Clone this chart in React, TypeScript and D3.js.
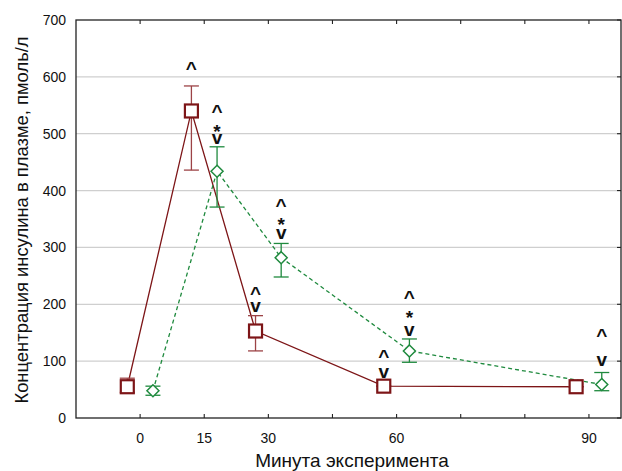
import React from "react";
import * as d3 from "d3";

// x positions are category slots; labels shown under some slots
const tickSlots = [1, 2, 3, 4, 5, 6, 7, 8];
const tickLabels: Record<number, string> = { 1: "0", 2: "15", 3: "30", 5: "60", 8: "90" };
const yTicks = [0, 100, 200, 300, 400, 500, 600, 700];

// Series 1 (red squares, solid line)
const redPos = [0.8, 1.8, 2.8, 4.8, 7.8];
const redMean = [55, 540, 153, 56, 55];
const redLow = [45, 436, 118, 56, 55];
const redHigh = [70, 584, 180, 56, 55];

// Series 2 (green diamonds, dashed line)
const greenPos = [1.2, 2.2, 3.2, 5.2, 8.2];
const greenMean = [48, 434, 282, 118, 59];
const greenLow = [40, 371, 248, 98, 48];
const greenHigh = [56, 477, 307, 139, 80];

// Significance marks per slot: [slot, [value, glyph][]]
const marks: [number, [number, string][]][] = [
  [1.8, [[621, "^"]]],
  [2.2, [[545, "^"], [511, "*"], [490, "v"]]],
  [2.8, [[225, "^"], [195, "v"]]],
  [3.2, [[380, "^"], [348, "*"], [324, "v"]]],
  [4.8, [[113, "^"], [79, "v"]]],
  [5.2, [[218, "^"], [183, "*"], [153, "v"]]],
  [8.2, [[150, "^"], [101, "v"]]],
];

const W = 622, H = 471;
const L = 76, R = 621, T = 20, B = 418;
const RED = "#7d1517";
const REDBAR = "#9c4346";
const GREEN = "#1f8a3e";

export default function App() {
  const x = d3.scaleLinear().domain([0, 8.5]).range([L, R]);
  const y = d3.scaleLinear().domain([0, 700]).range([B, T]);
  const line = d3.line<[number, number]>().x(d => x(d[0])).y(d => y(d[1]));
  const redPts = redPos.map((p, i) => [p, redMean[i]] as [number, number]);
  const greenPts = greenPos.map((p, i) => [p, greenMean[i]] as [number, number]);
  const font = "'Liberation Sans', Arial, sans-serif";
  const cap = 7.5;
  const glyphOff: Record<string, number> = { "^": 0.51, "*": 0.55, "v": 0.26 };
  const fs = 19;
  return (
    <svg width={W} height={H} style={{ position: "absolute", left: 0, top: 0 }} fontFamily={font}>
      <rect width={W} height={H} fill="#fff" />
      {yTicks.filter(t => t > 0 && t < 700).map(t => (
        <line key={"g" + t} x1={L} x2={R} y1={y(t)} y2={y(t)} stroke="#cfcfcf" strokeWidth={1.2} />
      ))}
      {/* lines */}
      <path d={line(redPts) || ""} fill="none" stroke={RED} strokeWidth={1.3} />
      <path d={line(greenPts) || ""} fill="none" stroke={GREEN} strokeWidth={1.3} strokeDasharray="4,3" />
      {/* error bars */}
      {redPos.map((p, i) => (
        <g key={"re" + i} stroke={REDBAR} strokeWidth={1.3}>
          <line x1={x(p)} x2={x(p)} y1={y(redLow[i])} y2={y(redHigh[i])} />
          <line x1={x(p) - cap} x2={x(p) + cap} y1={y(redLow[i])} y2={y(redLow[i])} />
          <line x1={x(p) - cap} x2={x(p) + cap} y1={y(redHigh[i])} y2={y(redHigh[i])} />
        </g>
      ))}
      {greenPos.map((p, i) => (
        <g key={"ge" + i} stroke={GREEN} strokeWidth={1.3}>
          <line x1={x(p)} x2={x(p)} y1={y(greenLow[i])} y2={y(greenHigh[i])} />
          <line x1={x(p) - cap} x2={x(p) + cap} y1={y(greenLow[i])} y2={y(greenLow[i])} />
          <line x1={x(p) - cap} x2={x(p) + cap} y1={y(greenHigh[i])} y2={y(greenHigh[i])} />
        </g>
      ))}
      {/* markers */}
      {redPts.map((d, i) => (
        <rect key={"rm" + i} x={x(d[0]) - 6.5} y={y(d[1]) - 6.5} width={13} height={13}
          fill="#fff" stroke={RED} strokeWidth={2.2} />
      ))}
      {greenPts.map((d, i) => {
        const cx = x(d[0]), cy = y(d[1]), r = 6;
        return (
          <path key={"gm" + i} d={`M${cx},${cy - r}L${cx + r},${cy}L${cx},${cy + r}L${cx - r},${cy}Z`}
            fill="#fff" stroke={GREEN} strokeWidth={1.5} />
        );
      })}
      {/* significance marks */}
      {marks.map((m, i) => (
        <text key={"mk" + i} textAnchor="middle" fontSize={fs} fontWeight="bold" fill="#111">
          {m[1].map((g, j) => (
            <tspan key={j} x={x(m[0])} y={y(g[0]) + glyphOff[g[1]] * fs}>{g[1]}</tspan>
          ))}
        </text>
      ))}
      {/* frame */}
      <rect x={L} y={T} width={R - L} height={B - T} fill="none" stroke="#222" strokeWidth={1.3} />
      {tickSlots.map(s => (
        <g key={"t" + s} stroke="#222" strokeWidth={1.1}>
          <line x1={x(s)} x2={x(s)} y1={B} y2={B - 4} />
          <line x1={x(s)} x2={x(s)} y1={T} y2={T + 4} />
        </g>
      ))}
      {yTicks.map(t => (
        <line key={"rt" + t} x1={R} x2={R - 4} y1={y(t)} y2={y(t)} stroke="#222" strokeWidth={1.1} />
      ))}
      {yTicks.map(t => (
        <text key={"yl" + t} x={L - 10} y={y(t) + 5} textAnchor="end" fontSize={14} fill="#111">{t}</text>
      ))}
      {tickSlots.filter(s => tickLabels[s]).map(s => (
        <text key={"xl" + s} x={x(s)} y={443} textAnchor="middle" fontSize={14} fill="#111">{tickLabels[s]}</text>
      ))}
      <text x={352} y={467} textAnchor="middle" fontSize={19} fill="#111">Минута эксперимента</text>
      <text transform={`translate(28,220) rotate(-90)`} textAnchor="middle" fontSize={18.4} fill="#111">
        Концентрация инсулина в плазме, пмоль/л
      </text>
    </svg>
  );
}
